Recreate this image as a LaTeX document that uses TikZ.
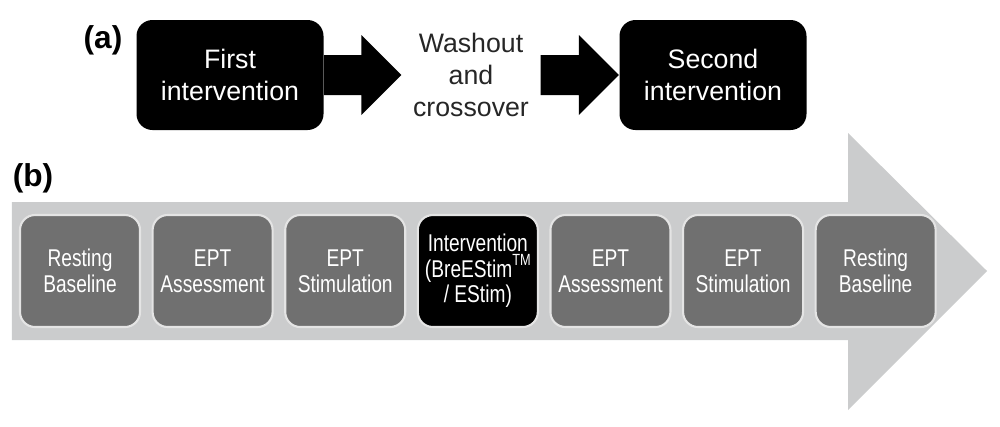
\documentclass[tikz,border=0pt]{standalone}
\usepackage{fontspec}
\setmainfont{Liberation Sans}
\newfontfamily\narrowfont{Liberation Sans}[FakeStretch=0.79]
\usetikzlibrary{positioning,calc}
\definecolor{arrowgray}{HTML}{CBCCCD}
\definecolor{boxgray}{HTML}{707070}
\definecolor{edgegray}{HTML}{E4E4E4}

\begin{document}
\begin{tikzpicture}[
    phase/.style={draw=edgegray, line width=0.6pt, fill=boxgray, rounded corners=0.15cm,
        minimum width=1.2cm, minimum height=1.12cm, inner sep=0pt, text=white, align=center,
        font=\narrowfont\fontsize{6.9}{7.3}\selectfont},
    period/.style={fill=black, rounded corners=0.16cm, minimum width=1.87cm, minimum height=1.1cm,
        text=white, align=center, font=\fontsize{7.6}{9.2}\selectfont},
    panel/.style={font=\bfseries\fontsize{9}{10}\selectfont}
]
    \useasboundingbox (0,0) rectangle (10,4.26);

    % --- (a) Crossover ---
    \node[panel] (la) at (1.03,3.86) {(a)};
    \node[period] (first) at (2.30,3.51) {First\\intervention};
    \node[align=center, minimum width=1.38cm, inner sep=0pt, text=black!85,
        font=\fontsize{7.6}{9.2}\selectfont] (wash) at (4.71,3.51) {Washout\\and\\crossover};
    \node[period] (second) at (7.13,3.51) {Second\\intervention};

    % block arrows
    \fill ($(first.east)+(0,0.2)$) -| ($(wash.west)+(-0.4,0.4)$) -- (wash.west)
        -- ($(wash.west)+(-0.4,-0.4)$) |- ($(first.east)+(0,-0.2)$) -- cycle;
    \fill ($(wash.east)+(0,0.2)$) -| ($(second.west)+(-0.4,0.4)$) -- (second.west)
        -- ($(second.west)+(-0.4,-0.4)$) |- ($(wash.east)+(0,-0.2)$) -- cycle;

    % --- (b) Session timeline ---
    \node[panel] (lb) at (0.33,2.48) {(b)};
    \fill[arrowgray] (0.12,2.24) -- (8.48,2.24) -- (8.48,2.93) -- (9.87,1.55)
        -- (8.48,0.16) -- (8.48,0.86) -- (0.12,0.86) -- cycle;

    \node[phase] (rest1) at (0.80,1.55) {Resting\\Baseline};
    \node[phase, right=0.105cm of rest1] (assess1) {EPT\\Assessment};
    \node[phase, right=0.105cm of assess1] (stim1) {EPT\\Stimulation};
    \node[phase, fill=black, right=0.105cm of stim1] (interv)
        {Intervention\\(BreEStim\raisebox{0.9ex}{\fontsize{4.6}{5}\selectfont TM}\\/ EStim)};
    \node[phase, right=0.105cm of interv] (assess2) {EPT\\Assessment};
    \node[phase, right=0.105cm of assess2] (stim2) {EPT\\Stimulation};
    \node[phase, right=0.105cm of stim2] (rest2) {Resting\\Baseline};
\end{tikzpicture}
\end{document}
